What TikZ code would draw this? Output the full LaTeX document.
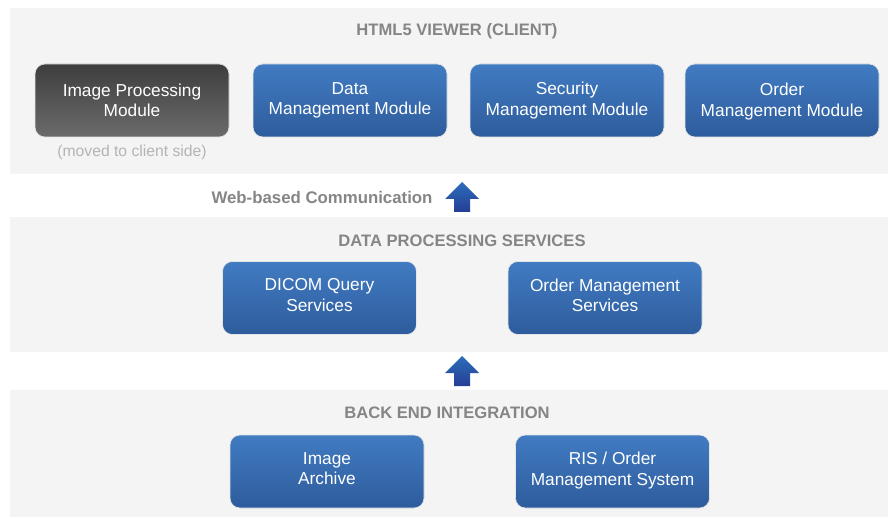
\documentclass[tikz,border=0pt]{standalone}
\usepackage{fontspec}
\setmainfont{Liberation Sans}
\usetikzlibrary{positioning}

\definecolor{bandgray}{HTML}{F4F4F4}
\definecolor{titlegray}{HTML}{858585}
\definecolor{notegray}{HTML}{B4B4B4}
\definecolor{bluetop}{HTML}{417BC2}
\definecolor{bluebot}{HTML}{2E5C9C}
\definecolor{darktop}{HTML}{3E3E3E}
\definecolor{darkbot}{HTML}{6B6B6B}
\definecolor{arrowtop}{HTML}{2C6DBA}
\definecolor{arrowbot}{HTML}{253E94}

\begin{document}
\begin{tikzpicture}[x=1pt,y=-1pt,
  band/.style={fill=bandgray,draw=none},
  layertitle/.style={text=titlegray,font=\fontsize{16.6}{19}\selectfont\bfseries},
  module/.style={rounded corners=10pt,draw=white!80!gray,line width=.6pt,
    top color=bluetop,bottom color=bluebot,text=white,align=center,
    minimum width=194pt,minimum height=73pt,inner sep=0pt,
    font=\fontsize{17.3}{20.5}\selectfont},
  clientmod/.style={module,top color=darktop,bottom color=darkbot},
  service/.style={module,text depth=6pt},
  uparrow/.style={top color=arrowtop,bottom color=arrowbot,draw=none}]
\useasboundingbox (0,0) rectangle (888,518);

% layers
\fill[band] (10,8) rectangle (888,174);
\fill[band] (10,217) rectangle (888,352);
\fill[band] (10,390) rectangle (888,517);

\node[layertitle] (viewer) at (457,31) {HTML5 VIEWER (CLIENT)};
\node[layertitle] (dps) at (462,241) {DATA PROCESSING SERVICES};
\node[layertitle] (backend) at (447,413) {BACK END INTEGRATION};

% client modules
\node[clientmod] (imgproc) at (132,100.5) {Image Processing\\Module};
\node[module] (datamgmt) at (350,100.5) {Data\\Management Module};
\node[module] (secmgmt) at (567,100.5) {Security\\Management Module};
\node[module] (ordmgmt) at (782,100.5) {\strut Order\\Management Module};
\node[text=notegray,font=\fontsize{15.7}{18}\selectfont,below=4pt of imgproc] (moved) {(moved to client side)};

% services
\node[service] (dicom) at (319.5,298) {DICOM Query\\Services};
\node[service] (ordsvc) at (605,298) {Order Management\\Services};

% back end
\node[service] (archive) at (327,471.5) {Image\\Archive};
\node[service] (ris) at (612.5,471.5) {RIS / Order\\Management System};

% arrows
\node[text=titlegray,font=\fontsize{16.8}{19}\selectfont\bfseries] (web) at (322,197) {Web-based Communication};
\coordinate (arrowa) at (462,182);
\coordinate (arrowb) at (462,356);
\foreach \a in {arrowa,arrowb}
  \shade[uparrow] (\a) -- ++(17,17) -- ++(-9,0) -- ++(0,13) -- ++(-16,0) -- ++(0,-13) -- ++(-9,0) -- cycle;
\end{tikzpicture}
\end{document}
